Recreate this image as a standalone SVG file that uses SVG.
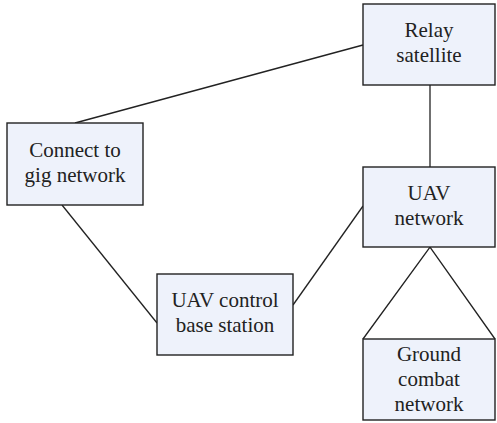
<svg xmlns="http://www.w3.org/2000/svg" width="497" height="423" viewBox="0 0 497 423">
  <style>
    .box { fill: #eef2fb; stroke: #222; stroke-width: 1.4; }
    .lbl { font-family: "Liberation Serif", "Times New Roman", serif; font-size: 21px; fill: #222; text-anchor: middle; }
    .link { stroke: #222; stroke-width: 1.3; fill: none; }
  </style>
  <rect width="497" height="423" fill="#ffffff"/>

  <g id="connectors">
    <line class="link" x1="363" y1="45" x2="75" y2="123"/>
    <line class="link" x1="430" y1="85" x2="430" y2="167"/>
    <line class="link" x1="62" y1="205" x2="157" y2="323"/>
    <line class="link" x1="293" y1="305" x2="363" y2="206"/>
    <polyline class="link" points="363,339 430,247 495,339"/>
  </g>

  <g id="relay-satellite">
    <rect class="box" x="363" y="4" width="132" height="81"/>
    <text class="lbl" x="429" y="37">Relay</text>
    <text class="lbl" x="429" y="62">satellite</text>
  </g>

  <g id="connect-gig">
    <rect class="box" x="7" y="123" width="136" height="82"/>
    <text class="lbl" x="75" y="157">Connect to</text>
    <text class="lbl" x="75" y="182">gig network</text>
  </g>

  <g id="uav-network">
    <rect class="box" x="363" y="167" width="132" height="80"/>
    <text class="lbl" x="429" y="200">UAV</text>
    <text class="lbl" x="429" y="225">network</text>
  </g>

  <g id="uav-control">
    <rect class="box" x="157" y="274" width="136" height="81"/>
    <text class="lbl" x="225" y="307">UAV control</text>
    <text class="lbl" x="225" y="332">base station</text>
  </g>

  <g id="ground-combat">
    <rect class="box" x="363" y="339" width="132" height="81"/>
    <text class="lbl" x="429" y="361">Ground</text>
    <text class="lbl" x="429" y="386">combat</text>
    <text class="lbl" x="429" y="411">network</text>
  </g>
</svg>
